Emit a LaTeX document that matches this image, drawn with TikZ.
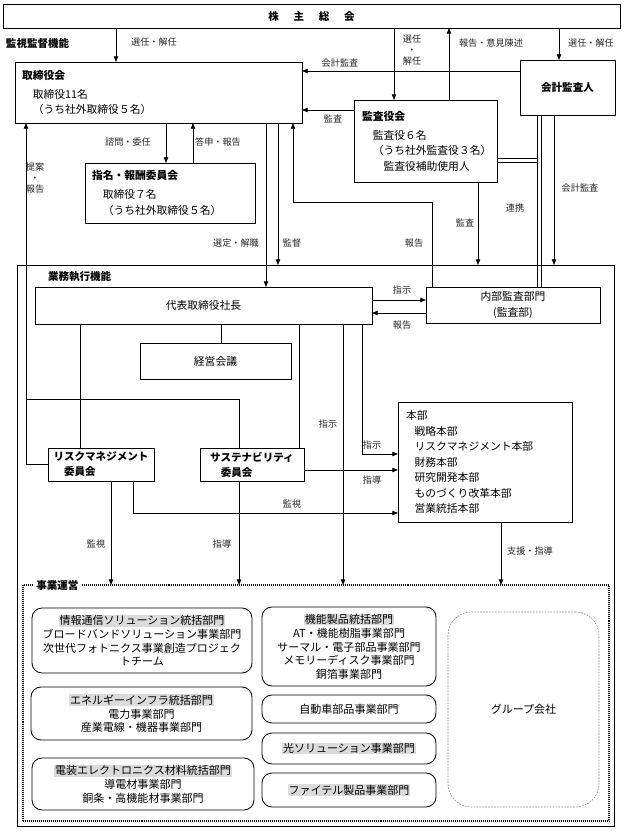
\documentclass[tikz,border=0pt]{standalone}
\usepackage{fontspec}
\setmainfont{Noto Sans CJK JP}
\usepackage{xcolor}
\usetikzlibrary{arrows.meta}
\newcommand{\hlgray}[1]{{\setlength{\fboxsep}{0.6pt}\colorbox{black!14}{#1}}}

\begin{document}
\begin{tikzpicture}[x=0.3mm, y=-0.3mm,
    every node/.style={inner sep=0pt, outer sep=0pt},
    box/.style={draw, line width=0.7pt, anchor=north west,
        font=\fontsize{9.2}{13.2}\selectfont},
    lbox/.style={box, align=left},
    cbox/.style={box, align=center},
    rbox/.style={cbox, rounded corners=3mm, font=\fontsize{9.4}{11.6}\selectfont},
    lbl/.style={font=\fontsize{7.8}{9.2}\selectfont, text=black!85, align=center},
    ttl/.style={font=\fontsize{9}{11}\selectfont\bfseries, anchor=west},
    line/.style={line width=0.6pt},
    arr/.style={line, -{Triangle[length=1.7mm,width=1.3mm]}}]

    \useasboundingbox (0,0) rectangle (624,832);

    % supervision side
    \node[cbox, minimum width=185.1mm, minimum height=7.2mm,
        font=\fontsize{9}{11}\selectfont\bfseries] (sokai) at (3,4)
        {株\hspace{1.4em}主\hspace{1.4em}総\hspace{1.4em}会};
    \node[ttl] (kanshittl) at (6,43) {監視監督機能};
    \node[lbox, text width=81.9mm, inner xsep=2.1mm, minimum height=18.3mm] (tori) at (15,62)
        {\textbf{取締役会}\\[3pt]\hspace*{1em}取締役11名\\\hspace*{1em}（うち社外取締役５名）};
    \node[lbox, text width=38.1mm, inner xsep=2.4mm, minimum height=24.6mm] (kansayaku) at (354,100)
        {\textbf{監査役会}\\[3pt]\hspace*{1em}監査役６名\\\hspace*{1em}（うち社外監査役３名）\\\hspace*{2em}監査役補助使用人};
    \node[cbox, minimum width=28.5mm, minimum height=16.5mm,
        font=\fontsize{9}{11}\selectfont\bfseries] (kaikei) at (520,60) {会計監査人};
    \node[lbox, text width=46.8mm, inner xsep=2.1mm, minimum height=18mm] (shimei) at (85,163)
        {\textbf{指名・報酬委員会}\\[3pt]\hspace*{1em}取締役７名\\\hspace*{1em}（うち社外取締役５名）};

    % execution side
    \node[box, minimum width=179.1mm, minimum height=168.3mm] (gyomu) at (17,265) {};
    \node[ttl] (gyomuttl) at (48,277) {業務執行機能};
    \node[cbox, minimum width=101.1mm, minimum height=11.1mm] (daihyo) at (35,287) {代表取締役社長};
    \node[cbox, minimum width=52.2mm, minimum height=10.8mm,
        font=\fontsize{9.2}{13.6}\selectfont] (naibu) at (426,287) {内部監査部門\\(監査部)};
    \node[cbox, minimum width=45.3mm, minimum height=10.8mm] (keiei) at (140,343) {経営会議};
    \node[lbox, text width=47.4mm, inner xsep=2.4mm, minimum height=36mm] (honbu) at (398,402)
        {本部\\\hspace*{0.8em}戦略本部\\\hspace*{0.8em}リスクマネジメント本部\\\hspace*{0.8em}財務本部\\
         \hspace*{0.8em}研究開発本部\\\hspace*{0.8em}ものづくり改革本部\\\hspace*{0.8em}営業統括本部};
    \node[lbox, minimum width=31.8mm, minimum height=9.9mm,
        font=\fontsize{9}{12.8}\selectfont\bfseries] (risk) at (48,448)
        {リスクマネジメント\\\hspace*{1em}委員会};
    \node[lbox, minimum width=31.2mm, minimum height=9.9mm,
        font=\fontsize{9}{12.8}\selectfont\bfseries] (sustain) at (200,448)
        {サステナビリティ\\\hspace*{1em}委員会};

    % business units
    \node[box, densely dotted, line width=0.9pt, minimum width=175.8mm, minimum height=70.8mm] (jigyo) at (23,585) {};
    \node[ttl, fill=white, inner xsep=2pt, inner ysep=1pt] (jigyottl) at (34,585) {事業運営};
    \node[rbox, minimum width=66mm, minimum height=19.5mm] (joho) at (32,608)
        {\hlgray{情報通信ソリューション統括部門}\\ブロードバンドソリューション事業部門\\次世代フォトニクス事業創造プロジェク\\トチーム};
    \node[rbox, minimum width=66.3mm, minimum height=15.9mm] (energy) at (31,687)
        {\hlgray{エネルギーインフラ統括部門}\\電力事業部門\\産業電線・機器事業部門};
    \node[rbox, minimum width=66.6mm, minimum height=15.6mm] (denso) at (32,758)
        {\hlgray{電装エレクトロニクス材料統括部門}\\導電材事業部門\\銅条・高機能材事業部門};
    \node[rbox, minimum width=52.2mm, minimum height=23.7mm] (kino) at (262,607)
        {\hlgray{機能製品統括部門}\\AT・機能樹脂事業部門\\サーマル・電子部品事業部門\\メモリーディスク事業部門\\銅箔事業部門};
    \node[rbox, minimum width=52.2mm, minimum height=8.4mm] (jidosha) at (262,695) {自動車部品事業部門};
    \node[rbox, minimum width=52.2mm, minimum height=9.3mm] (hikari) at (262,733) {\hlgray{光ソリューション事業部門}};
    \node[rbox, minimum width=52.2mm, minimum height=10.2mm] (fitel) at (262,773) {\hlgray{ファイテル製品事業部門}};
    \node[rbox, draw=black!45, line width=0.5pt, dash pattern=on 1.5pt off 1pt,
        rounded corners=7mm, minimum width=45.3mm, minimum height=58.5mm] (group) at (448,612) {グループ会社};

    % connectors, top half
    \draw[arr] (sokai.south -| 116,0) -- (tori.north -| 116,0);
    \draw[arr] (sokai.south -| 394,0) -- (kansayaku.north -| 394,0);
    \draw[arr] (kansayaku.north -| 449,0) -- (sokai.south -| 449,0);
    \draw[arr] (sokai.south -| 559,0) -- (kaikei.north -| 559,0);
    \draw[arr] (kaikei.west |- 0,71) -- (tori.east |- 0,71);
    \draw[arr] (kansayaku.west |- 0,110) -- (tori.east |- 0,110);
    % 連携 (double line)
    \draw[line] (kansayaku.east |- 0,158) -- (537,158);
    \draw[line] (kansayaku.east |- 0,162) -- (537,162);
    \draw[line] (kaikei.south -| 537,0) -- (naibu.north -| 537,0);
    \draw[line] (kaikei.south -| 541,0) -- (naibu.north -| 541,0);
    \draw[arr] (kaikei.south -| 554,0) -- (gyomu.north -| 554,0);
    \draw[arr] (kansayaku.south -| 478,0) -- (gyomu.north -| 478,0);
    \draw[arr] (naibu.north -| 432,0) -- (432,202) -- (293,202) -- (tori.south -| 293,0);
    \draw[arr] (tori.south -| 266,0) -- (daihyo.north -| 266,0);
    \draw[arr] (tori.south -| 278,0) -- (gyomu.north -| 278,0);
    \draw[arr] (tori.south -| 166,0) -- (shimei.north -| 166,0);
    \draw[arr] (shimei.north -| 193,0) -- (tori.south -| 193,0);
    \draw[arr] (risk.west |- 0,464) -- (26,464) -- (tori.south -| 26,0);
    \draw[line] (sustain.north -| 239,0) |- (26,399);

    % connectors, bottom half
    \draw[line] (daihyo.south -| 80,0) -- (risk.north -| 80,0);
    \draw[line] (daihyo.south -| 221,0) -- (keiei.north -| 221,0);
    \draw[line] (daihyo.south -| 299,0) -- (sustain.north -| 299,0);
    \draw[arr] (daihyo.south -| 343,0) -- (jigyo.north -| 343,0);
    \draw[arr] (daihyo.south -| 362,0) |- (honbu.west |- 0,454);
    \draw[arr] (sustain.east |- 0,470) -- (honbu.west |- 0,470);
    \draw[arr] (risk.south -| 133,0) |- (honbu.west |- 0,513);
    \draw[arr] (risk.south -| 111,0) -- (jigyo.north -| 111,0);
    \draw[arr] (sustain.south -| 239,0) -- (jigyo.north -| 239,0);
    \draw[arr] (honbu.south -| 501,0) -- (jigyo.north -| 501,0);
    \draw[arr] (daihyo.east |- 0,300) -- (naibu.west |- 0,300);
    \draw[arr] (naibu.west |- 0,313) -- (daihyo.east |- 0,313);

    % labels
    \node[lbl] (lsenin1) at (154,42) {選任・解任};
    \node[lbl] (lsenin2) at (412,50) {選任\\・\\解任};
    \node[lbl] (lhokoku1) at (491,43) {報告・意見陳述};
    \node[lbl] (lsenin3) at (591,43) {選任・解任};
    \node[lbl] (lkaikei1) at (340,63) {会計監査};
    \node[lbl] (lkansa1) at (333,119) {監査};
    \node[lbl] (lrenkei) at (515,208) {連携};
    \node[lbl] (lkaikei2) at (580,188) {会計監査};
    \node[lbl] (lkansa2) at (465,223) {監査};
    \node[lbl] (lhokoku2) at (414,243) {報告};
    \node[lbl] (lkantoku) at (292,243) {監督};
    \node[lbl] (lsentei) at (236,243) {選定・解職};
    \node[lbl] (lshimon) at (128,142) {諮問・委任};
    \node[lbl] (ltoshin) at (218,142) {答申・報告};
    \node[lbl] (lteian) at (35,178) {提案\\・\\報告};
    \node[lbl] (lshiji1) at (402,290) {指示};
    \node[lbl] (lhokoku3) at (402,325) {報告};
    \node[lbl] (lshiji2) at (328,424) {指示};
    \node[lbl] (lshiji3) at (372,445) {指示};
    \node[lbl] (lshido1) at (372,480) {指導};
    \node[lbl] (lkanshi1) at (292,504) {監視};
    \node[lbl] (lkanshi2) at (96,544) {監視};
    \node[lbl] (lshido2) at (222,544) {指導};
    \node[lbl] (lshien) at (530,551) {支援・指導};

\end{tikzpicture}
\end{document}
